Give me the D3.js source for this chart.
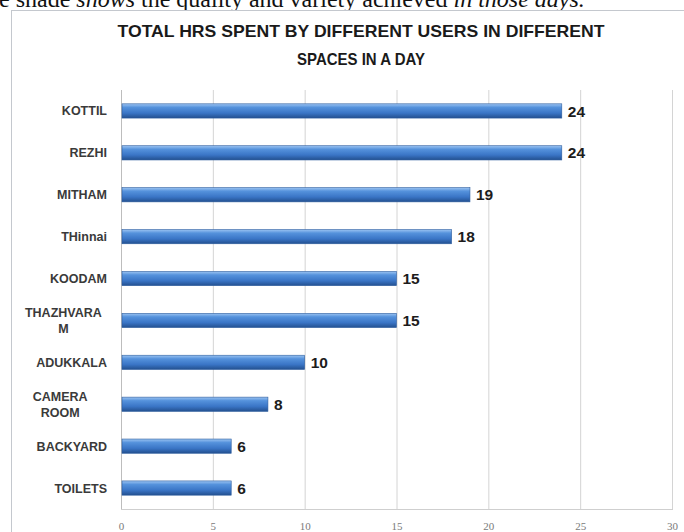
<!DOCTYPE html>
<html>
<head>
<meta charset="utf-8">
<script src="https://cdn.jsdelivr.net/npm/d3@7"></script>
<style>
  body { margin: 0; background: #fff; }
  svg { display: block; }
</style>
</head>
<body>
<script>
// chart values
const spaces = ["KOTTIL", "REZHI", "MITHAM", "THinnai", "KOODAM", "THAZHVARAM", "ADUKKALA", "CAMERA ROOM", "BACKYARD", "TOILETS"];
const hours = [24, 24, 19, 18, 15, 15, 10, 8, 6, 6];
const xTicks = [0, 5, 10, 15, 20, 25, 30];
const titleLines = ["TOTAL HRS SPENT BY DIFFERENT USERS IN DIFFERENT", "SPACES IN A DAY"];
// page text above the chart: [text, italic?]
const captionParts = [["e shade ", false], ["shows", true], [" the quality and variety achieved ", false], ["in those days.", true]];

document.addEventListener("DOMContentLoaded", () => {
    const width = 684;
    const height = 532;
    const plot = { left: 121, right: 672, top: 90, bottom: 509 };

    const svg = d3.select("body")
        .append("svg")
        .attr("width", width)
        .attr("height", height);

    const defs = svg.append("defs");
    const grad = defs.append("linearGradient")
        .attr("id", "barGrad")
        .attr("x1", 0).attr("y1", 0).attr("x2", 0).attr("y2", 1);
    [["0%", "#9cc4f2"], ["25%", "#5592dc"], ["65%", "#3a75c6"], ["100%", "#23508f"]]
        .forEach(s => grad.append("stop").attr("offset", s[0]).attr("stop-color", s[1]));

    // caption line from the page, cut off at the top
    const cap = svg.append("text")
        .attr("x", -1)
        .attr("y", 7)
        .attr("font-family", "Liberation Serif")
        .attr("font-size", 24)
        .attr("fill", "#111");
    captionParts.forEach(p => {
        cap.append("tspan")
            .attr("font-style", p[1] ? "italic" : "normal")
            .text(p[0]);
    });

    // chart frame
    svg.append("rect")
        .attr("x", 11.5).attr("y", 10.5)
        .attr("width", 700).attr("height", 560)
        .attr("fill", "#fff")
        .attr("stroke", "#c4c8ce");

    // title
    svg.append("g").selectAll("text")
        .data(titleLines)
        .enter()
        .append("text")
        .attr("x", 361)
        .attr("y", (d, i) => 37 + i * 28)
        .attr("text-anchor", "middle")
        .attr("font-family", "Liberation Sans")
        .attr("font-weight", "bold")
        .attr("font-size", 16.5)
        .attr("fill", "#1a1a1a")
        .attr("textLength", (d, i) => i === 0 ? 487 : 128)
        .attr("lengthAdjust", "spacingAndGlyphs")
        .text(d => d);

    const x = d3.scaleLinear().domain([0, 30]).range([plot.left, plot.right]);
    const y = d3.scaleBand().domain(spaces).range([plot.top, plot.bottom]).paddingInner(0.66).paddingOuter(0.33);

    // vertical gridlines
    svg.append("g").selectAll("line")
        .data(xTicks.slice(1))
        .enter()
        .append("line")
        .attr("x1", d => x(d) + 0.5).attr("x2", d => x(d) + 0.5)
        .attr("y1", plot.top).attr("y2", plot.bottom)
        .attr("stroke", "#d4d4d4");

    // axis lines
    svg.append("line")
        .attr("x1", plot.left + 0.5).attr("x2", plot.left + 0.5)
        .attr("y1", plot.top).attr("y2", plot.bottom)
        .attr("stroke", "#bdbdbd");
    svg.append("line")
        .attr("x1", plot.left).attr("x2", plot.right + 1)
        .attr("y1", plot.bottom + 0.5).attr("y2", plot.bottom + 0.5)
        .attr("stroke", "#cfcfcf");

    // x tick labels
    const xAxis = d3.axisBottom(x).tickValues(xTicks).tickSize(0).tickPadding(13);
    const xg = svg.append("g")
        .attr("transform", `translate(0,${plot.bottom})`)
        .call(xAxis);
    xg.select(".domain").remove();
    xg.selectAll("text")
        .attr("font-family", "Liberation Serif")
        .attr("font-size", 11)
        .attr("fill", "#7a7a7a");

    // bars
    svg.append("g").selectAll("rect")
        .data(spaces)
        .enter()
        .append("rect")
        .attr("x", plot.left + 1)
        .attr("y", d => y(d))
        .attr("width", (d, i) => x(hours[i]) - plot.left - 1)
        .attr("height", y.bandwidth())
        .attr("fill", "url(#barGrad)")
        .attr("stroke", "#2d5d9e")
        .attr("stroke-width", 0.6);

    // value labels
    svg.append("g").selectAll("text")
        .data(spaces)
        .enter()
        .append("text")
        .attr("x", (d, i) => x(hours[i]) + 6)
        .attr("y", d => y(d) + y.bandwidth() / 2)
        .attr("dy", "0.36em")
        .attr("font-family", "Liberation Sans")
        .attr("font-weight", "bold")
        .attr("font-size", 15.5)
        .attr("fill", "#1c1c1c")
        .text((d, i) => hours[i]);

    // category labels, long ones wrapped and centred
    function wrapLabel(s) {
        if (s.indexOf(" ") >= 0) return s.split(" ");
        if (s.length > 9) return [s.slice(0, 9), s.slice(9)];
        return [s];
    }
    const labelRight = 107;
    const labels = svg.append("g")
        .attr("font-family", "Liberation Sans")
        .attr("font-weight", "bold")
        .attr("font-size", 12.5)
        .attr("fill", "#3a3a3a");
    spaces.forEach(s => {
        const lines = wrapLabel(s);
        const cy = y(s) + y.bandwidth() / 2;
        const t = labels.append("text");
        lines.forEach((ln, j) => {
            t.append("tspan")
                .attr("y", cy - (lines.length - 1) * 8 + j * 16)
                .attr("dy", "0.36em")
                .text(ln);
        });
        if (lines.length === 1) {
            t.attr("text-anchor", "end").selectAll("tspan").attr("x", labelRight);
        } else {
            const w = t.node().getBBox().width;
            t.attr("text-anchor", "middle").selectAll("tspan").attr("x", labelRight - w / 2);
        }
    });
});
</script>
</body>
</html>
